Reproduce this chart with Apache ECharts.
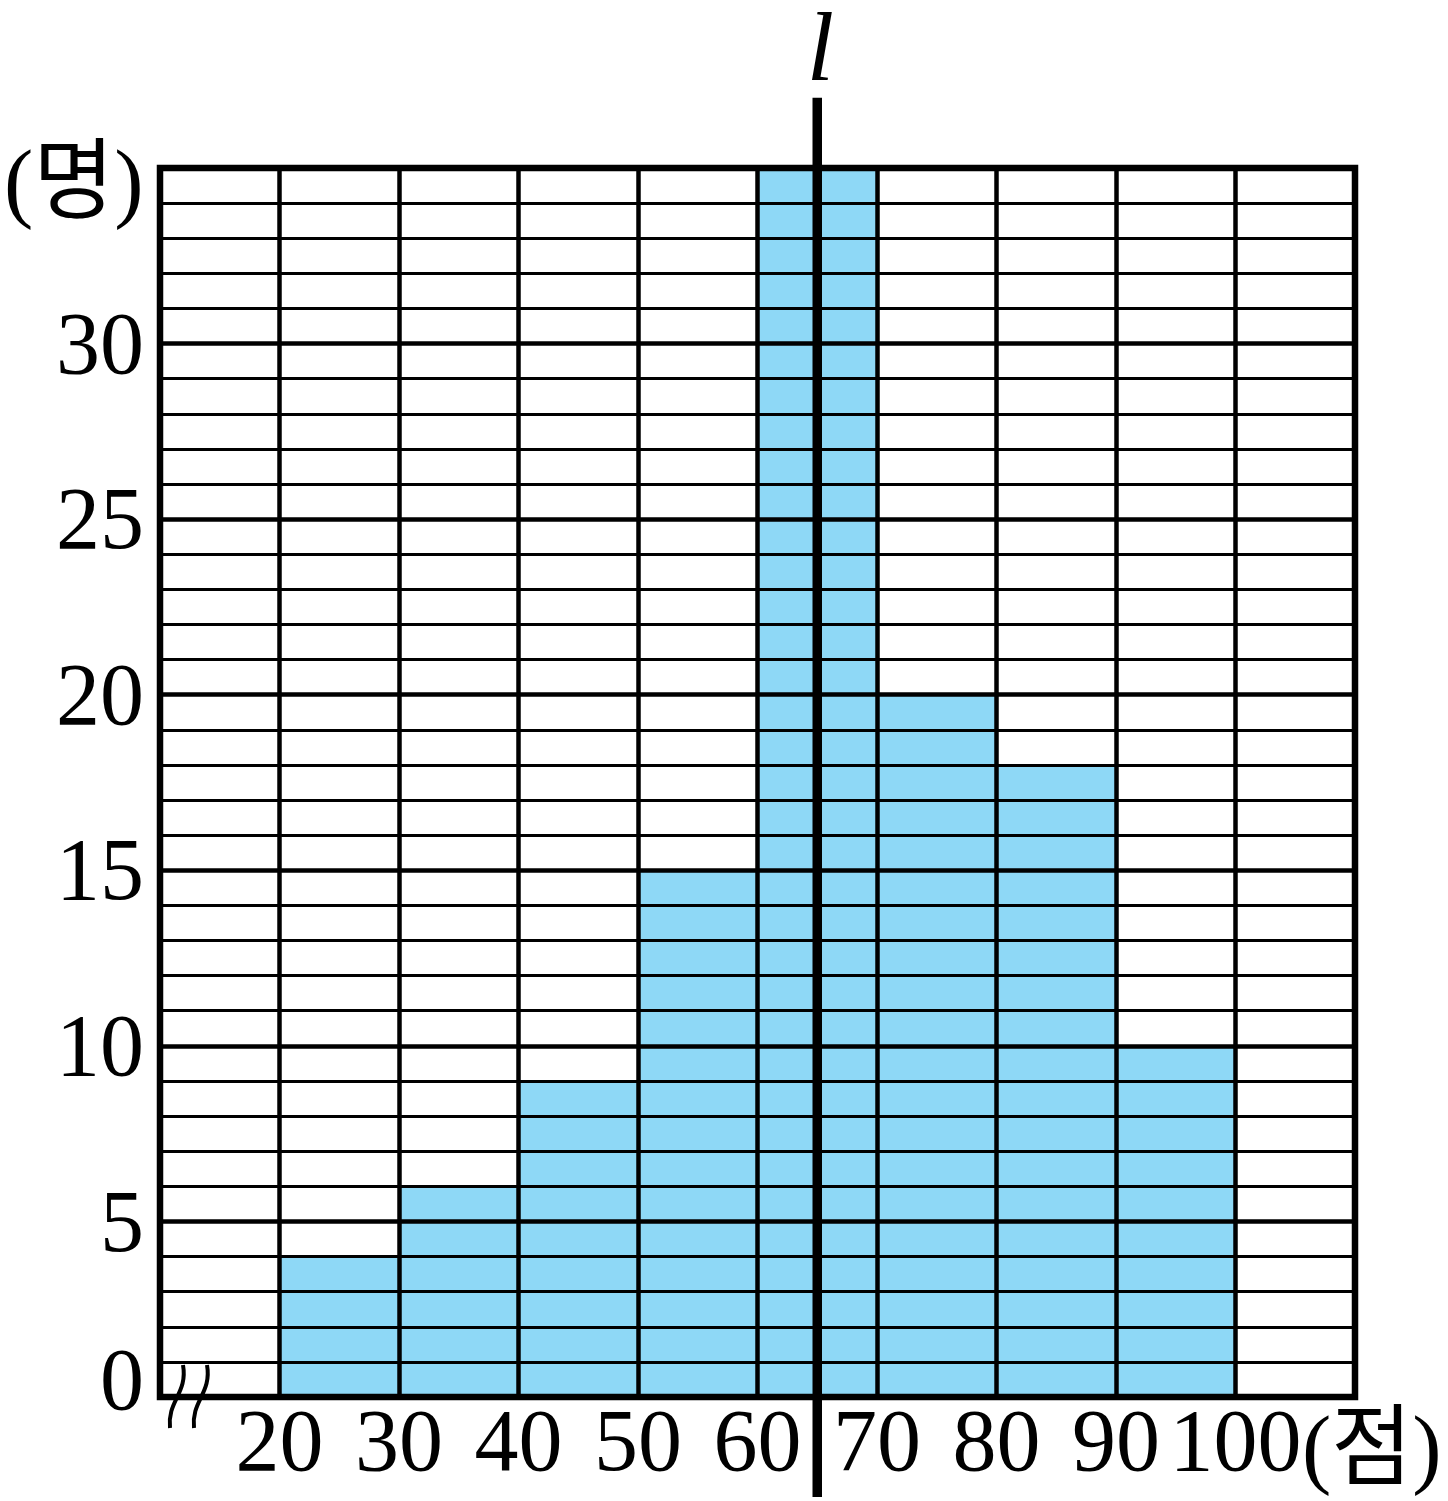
<!DOCTYPE html>
<html><head><meta charset="utf-8">
<script src="https://cdn.jsdelivr.net/npm/echarts@6/dist/echarts.min.js"></script>
<style>html,body{margin:0;padding:0;background:#fff}#c{width:1448px;height:1501px}</style>
</head><body><div id="c"></div>
<script>
// ---- data ----
const binStarts = [20, 30, 40, 50, 60, 70, 80, 90];
const binWidth = 10;
const counts = [4, 6, 9, 15, 35, 20, 18, 10];
const xRange = [10, 110];
const yRange = [0, 35];
const lineX = 65;            // position of line l
const lineSpan = [37, -2.85]; // vertical extent of line l (in count units)
const yUnit = '(명)';
const xUnit = '(점)';
const lineLabel = 'l';

const FONT = "'Liberation Serif','DejaVu Serif','Noto Sans CJK KR',serif";
const FS = 88;
const chart = echarts.init(document.getElementById('c'), null, {renderer: 'canvas'});

const option = {
  backgroundColor: '#fff',
  animation: false,
  grid: {left: 160, right: 93, top: 168, bottom: 104, containLabel: false, outerBoundsMode: 'none'},
  xAxis: {
    type: 'value', min: xRange[0], max: xRange[1], interval: 10, z: 5,
    axisLine: {show: false}, axisTick: {show: false},
    splitLine: {show: true, lineStyle: {color: '#000', width: 4.5}},
    axisLabel: {fontSize: FS, color: '#000', fontFamily: FONT, margin: 6, showMinLabel: false, showMaxLabel: false}
  },
  yAxis: {
    type: 'value', min: yRange[0], max: yRange[1], interval: 5, z: 5,
    axisLine: {show: false}, axisTick: {show: false},
    splitLine: {show: true, lineStyle: {color: '#000', width: 4.5}},
    minorTick: {show: false, splitNumber: 5},
    minorSplitLine: {show: true, lineStyle: {color: '#000', width: 2.8}},
    axisLabel: {
      fontSize: FS, color: '#000', fontFamily: FONT, margin: 16, showMaxLabel: false,
      formatter: v => v === 0 ? '{z|' + v + '}' : '{a|' + v + '}',
      rich: {
        a: {fontSize: FS, fontFamily: FONT, color: '#000', padding: [12, 0, 0, 0]},
        z: {fontSize: FS, fontFamily: FONT, color: '#000', padding: [0, 0, 22, 0]}
      }
    }
  },
  graphic: [
    {type: 'text', left: 4, top: 144, style: {text: yUnit, fontSize: FS, fontFamily: FONT, fill: '#000'}},
    {type: 'text', left: 1302, top: 1410, style: {text: xUnit, fontSize: FS, fontFamily: FONT, fill: '#000'}}
  ],
  series: [
    {
      type: 'custom', z: 2,
      data: binStarts.map((s, i) => [s, s + binWidth, counts[i]]),
      encode: {x: [0, 1], y: 2},
      renderItem: function (params, api) {
        const p0 = api.coord([api.value(0), api.value(2)]);
        const p1 = api.coord([api.value(1), yRange[0]]);
        return {type: 'rect', shape: {x: p0[0], y: p0[1], width: p1[0] - p0[0], height: p1[1] - p0[1]},
                style: {fill: '#8ED8F6'}};
      }
    },
    {
      type: 'custom', z: 8, clip: false, silent: true,
      data: [[xRange[0], xRange[1], yRange[0], yRange[1]]],
      encode: {x: [0, 1], y: [2, 3]},
      renderItem: function (params, api) {
        const tl = api.coord([api.value(0), api.value(3)]);
        const br = api.coord([api.value(1), api.value(2)]);
        const o = api.coord([api.value(0), api.value(2)]);
        const wave = dx => `M${o[0]+23+dx} ${o[1]-32} C${o[0]+28+dx} ${o[1]-4} ${o[0]+7+dx} ${o[1]+4} ${o[0]+10+dx} ${o[1]+31}`;
        return {type: 'group', children: [
          {type: 'rect', shape: {x: tl[0], y: tl[1], width: br[0] - tl[0], height: br[1] - tl[1]},
           style: {fill: 'none', stroke: '#000', lineWidth: 6.5}},
          {type: 'path', shape: {pathData: wave(0)}, style: {fill: 'none', stroke: '#000', lineWidth: 4}},
          {type: 'path', shape: {pathData: wave(24)}, style: {fill: 'none', stroke: '#000', lineWidth: 4}}
        ]};
      }
    },
    {
      type: 'custom', z: 10, clip: false, silent: true,
      data: [[lineX, lineSpan[0], lineSpan[1]]],
      encode: {x: 0, y: [1, 2]},
      renderItem: function (params, api) {
        const top = api.coord([api.value(0), api.value(1)]);
        const bot = api.coord([api.value(0), api.value(2)]);
        return {type: 'group', children: [
          {type: 'line', shape: {x1: top[0], y1: top[1], x2: bot[0], y2: bot[1]},
           style: {stroke: '#000', lineWidth: 9.5}},
          {type: 'text', x: top[0] + 3, y: top[1] - 44,
           style: {text: lineLabel, fontSize: 98, fontStyle: 'italic', fontFamily: FONT, fill: '#000',
                   align: 'center', verticalAlign: 'middle'}}
        ]};
      }
    }
  ]
};
chart.setOption(option);
</script>
</body></html>
